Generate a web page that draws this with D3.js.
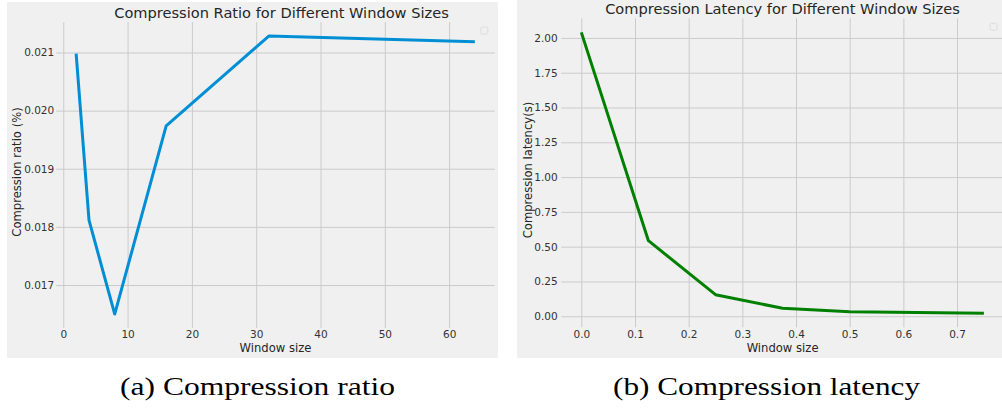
<!DOCTYPE html>
<html>
<head>
<meta charset="utf-8">
<script src="https://cdn.jsdelivr.net/npm/d3@7"></script>
<style>
  body { margin: 0; background: #fff; }
  text { font-family: "DejaVu Sans", sans-serif; fill: #262626; }
  .grid line { stroke: #cbcbcb; stroke-width: 1; }
  .tick text { font-size: 10.5px; fill: #333; }
  .caption { font-family: "Liberation Serif", "DejaVu Serif", serif; fill: #000; }
</style>
</head>
<body>
<script>
// panel (a): compression ratio
var ratioSizes = [2, 4, 8, 16, 32, 64];
var ratioValues = [0.02098, 0.018115, 0.0165, 0.019737, 0.021285, 0.021184];
var ratioXTicks = [0, 10, 20, 30, 40, 50, 60];
var ratioYTicks = [0.017, 0.018, 0.019, 0.020, 0.021];

// panel (b): compression latency
var latencySizes = [0, 0.125, 0.25, 0.375, 0.5, 0.75];
var latencyValues = [2.04, 0.543, 0.155, 0.057, 0.033, 0.0215];
var latencyXTicks = [0, 0.1, 0.2, 0.3, 0.4, 0.5, 0.6, 0.7];
var latencyYTicks = [0, 0.25, 0.5, 0.75, 1.0, 1.25, 1.5, 1.75, 2.0];

var svg = d3.select("body").append("svg")
    .attr("width", 1002)
    .attr("height", 410);

svg.append("rect").attr("width", 1002).attr("height", 410).attr("fill", "#fff");

// matplotlib style 5% margins on the data
function padded(ext) {
    var m = (ext[1] - ext[0]) * 0.05;
    return [ext[0] - m, ext[1] + m];
}

function drawPanel(opt) {
    var g = svg.append("g");

    g.append("rect")
        .attr("x", opt.bg[0]).attr("y", opt.bg[1])
        .attr("width", opt.bg[2]).attr("height", opt.bg[3])
        .attr("fill", "#f0f0f0");

    var x = d3.scaleLinear().domain(padded(d3.extent(opt.xs))).range([opt.left, opt.right]);
    var y = d3.scaleLinear().domain(padded(d3.extent(opt.ys))).range([opt.bottom, opt.top]);

    // grid
    g.append("g").attr("class", "grid")
        .attr("transform", "translate(0," + opt.bottom + ")")
        .call(d3.axisBottom(x).tickValues(opt.xTicks).tickSize(opt.top - opt.bottom).tickFormat(""))
        .call(function(s) { s.select(".domain").remove(); });
    g.append("g").attr("class", "grid")
        .attr("transform", "translate(" + opt.left + ",0)")
        .call(d3.axisLeft(y).tickValues(opt.yTicks).tickSize(opt.left - opt.right).tickFormat(""))
        .call(function(s) { s.select(".domain").remove(); });

    // tick labels
    g.append("g")
        .attr("transform", "translate(0," + opt.bottom + ")")
        .call(d3.axisBottom(x).tickValues(opt.xTicks).tickSize(0).tickFormat(opt.xFmt))
        .call(function(s) { s.select(".domain").remove(); });
    g.append("g")
        .attr("transform", "translate(" + (opt.left - opt.yPad) + ",0)")
        .call(d3.axisLeft(y).tickValues(opt.yTicks).tickSize(0).tickFormat(opt.yFmt))
        .call(function(s) { s.select(".domain").remove(); });

    // line
    var line = d3.line()
        .x(function(d, i) { return x(opt.xs[i]); })
        .y(function(d) { return y(d); });
    g.append("path")
        .datum(opt.ys)
        .attr("d", line)
        .attr("fill", "none")
        .attr("stroke", opt.color)
        .attr("stroke-width", 3)
        .attr("stroke-linejoin", "round");

    // empty legend box
    g.append("rect")
        .attr("x", opt.right - 14).attr("y", opt.top + 5)
        .attr("width", 7).attr("height", 7).attr("rx", 1.5)
        .attr("fill", "none").attr("stroke", "#d8d8d8").attr("stroke-width", 0.8);

    g.append("text")
        .attr("x", opt.titleX).attr("y", opt.titleY)
        .attr("text-anchor", "middle")
        .style("font-size", "14.6px")
        .text(opt.title);

    g.append("text")
        .attr("x", (opt.left + opt.right) / 2).attr("y", 352)
        .attr("text-anchor", "middle")
        .style("font-size", "11.6px")
        .text("Window size");

    g.append("text")
        .attr("transform", "translate(" + opt.yLabelX + "," + opt.yLabelY + ") rotate(-90)")
        .attr("text-anchor", "middle")
        .style("font-size", "11.6px")
        .text(opt.yLabel);

    g.append("text")
        .attr("class", "caption")
        .attr("x", opt.capX).attr("y", 395)
        .attr("text-anchor", "middle")
        .attr("textLength", opt.capW)
        .attr("lengthAdjust", "spacingAndGlyphs")
        .style("font-size", "25px")
        .text(opt.caption);
}

drawPanel({
    bg: [7, 2, 491, 356],
    left: 56.2, right: 494.8, top: 22, bottom: 328,
    xs: ratioSizes, ys: ratioValues,
    xTicks: ratioXTicks, yTicks: ratioYTicks,
    xFmt: d3.format("d"), yFmt: d3.format(".3f"),
    yPad: -1,
    color: "#008fd5",
    title: "Compression Ratio for Different Window Sizes",
    titleX: 281.5, titleY: 18.3,
    yLabel: "Compression ratio (%)", yLabelX: 21, yLabelY: 172,
    caption: "(a) Compression ratio", capX: 257.5, capW: 275
});

drawPanel({
    bg: [517, 0, 485, 358],
    left: 561.2, right: 1004, top: 18.3, bottom: 327.3,
    xs: latencySizes, ys: latencyValues,
    xTicks: latencyXTicks, yTicks: latencyYTicks,
    xFmt: d3.format(".1f"), yFmt: d3.format(".2f"),
    yPad: 0.5,
    color: "#008000",
    title: "Compression Latency for Different Window Sizes",
    titleX: 782.5, titleY: 14,
    yLabel: "Compression latency(s)", yLabelX: 532, yLabelY: 170,
    caption: "(b) Compression latency", capX: 766.5, capW: 307
});
</script>
</body>
</html>
